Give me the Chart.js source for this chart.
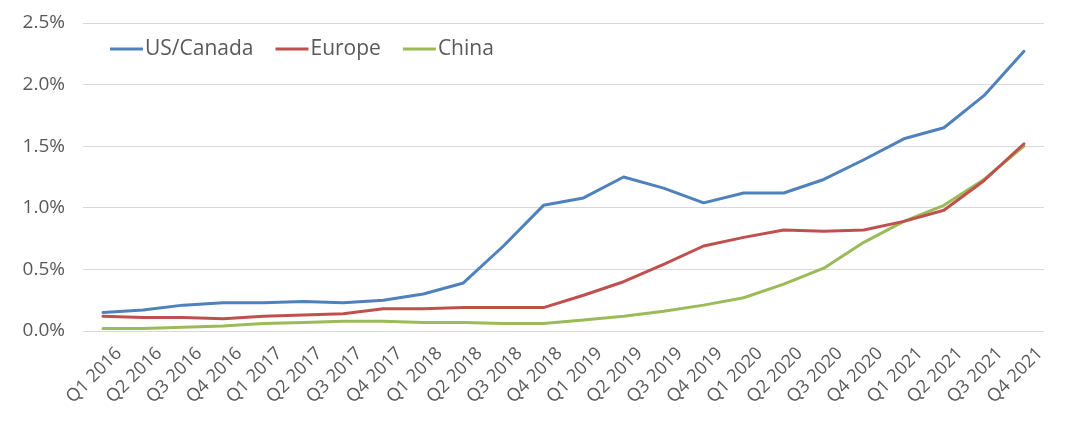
<!DOCTYPE html>
<html>
<head>
<meta charset="utf-8">
<script src="https://cdn.jsdelivr.net/npm/chart.js@4"></script>
<style>
  html, body { margin: 0; padding: 0; background: #fff; }
  #wrap { width: 1080px; height: 426px; }
</style>
</head>
<body>
<div id="wrap"><canvas id="myChart" width="1080" height="426"></canvas></div>
<script>
// data (percent)
const labels = ["Q1 2016","Q2 2016","Q3 2016","Q4 2016","Q1 2017","Q2 2017","Q3 2017","Q4 2017",
  "Q1 2018","Q2 2018","Q3 2018","Q4 2018","Q1 2019","Q2 2019","Q3 2019","Q4 2019",
  "Q1 2020","Q2 2020","Q3 2020","Q4 2020","Q1 2021","Q2 2021","Q3 2021","Q4 2021"];
const usCanada = [0.15,0.17,0.21,0.23,0.23,0.24,0.23,0.25,0.30,0.39,0.69,1.02,
  1.08,1.25,1.16,1.04,1.12,1.12,1.23,1.39,1.56,1.65,1.91,2.27];
const europe = [0.12,0.11,0.11,0.10,0.12,0.13,0.14,0.18,0.18,0.19,0.19,0.19,
  0.29,0.40,0.54,0.69,0.76,0.82,0.81,0.82,0.89,0.98,1.22,1.52];
const china = [0.02,0.02,0.03,0.04,0.06,0.07,0.08,0.08,0.07,0.07,0.06,0.06,
  0.09,0.12,0.16,0.21,0.27,0.38,0.51,0.72,0.89,1.02,1.23,1.50];
const yTicks = [0, 0.5, 1.0, 1.5, 2.0, 2.5];

const textColor = '#595959';
const fontFamily = '"Open Sans", sans-serif';

// legend drawn inside the plot, top-left
const insideLegend = {
  id: 'insideLegend',
  afterDraw(chart) {
    const ctx = chart.ctx;
    const area = chart.chartArea;
    let x = area.left + 27;
    const y = area.top + 26;
    ctx.save();
    ctx.font = '21px ' + fontFamily;
    ctx.textBaseline = 'middle';
    chart.data.datasets.forEach(ds => {
      ctx.strokeStyle = ds.borderColor;
      ctx.lineWidth = 3;
      ctx.beginPath();
      ctx.moveTo(x, y);
      ctx.lineTo(x + 33, y);
      ctx.stroke();
      ctx.fillStyle = textColor;
      ctx.fillText(ds.label, x + 35, y);
      x += 35 + ctx.measureText(ds.label).width + 22;
    });
    ctx.restore();
  }
};

const ctx = document.getElementById('myChart');

new Chart(ctx, {
  type: 'line',
  data: {
    labels: labels,
    datasets: [
      { label: 'US/Canada', data: usCanada, borderColor: '#4F81BD' },
      { label: 'Europe', data: europe, borderColor: '#C0504D' },
      { label: 'China', data: china, borderColor: '#9BBB59' }
    ]
  },
  options: {
    responsive: false,
    animation: false,
    devicePixelRatio: 1,
    layout: { padding: { top: 23, right: 36, left: 0, bottom: 0 } },
    elements: {
      line: { borderWidth: 3, tension: 0, borderCapStyle: 'round', borderJoinStyle: 'round' },
      point: { radius: 0 }
    },
    plugins: {
      legend: { display: false },
      tooltip: { enabled: false }
    },
    scales: {
      x: {
        offset: true,
        grid: { display: false },
        border: { display: false },
        ticks: {
          color: textColor,
          font: { family: fontFamily, size: 18 },
          maxRotation: 45,
          minRotation: 45,
          autoSkip: false,
          labelOffset: 16,
          padding: 4
        },
        afterFit(scale) { scale.height = 95; }
      },
      y: {
        min: 0,
        max: 2.5,
        afterBuildTicks(scale) { scale.ticks = yTicks.map(v => ({ value: v })); },
        grid: { color: '#d9d9d9', lineWidth: 1, drawTicks: false },
        border: { display: false },
        ticks: {
          color: textColor,
          font: { family: fontFamily, size: 19 },
          padding: 18,
          callback: v => v.toFixed(1) + '%'
        },
        afterFit(scale) {
          scale.width = 83;
          scale.paddingTop = 0;
          scale.paddingBottom = 0;
        }
      }
    }
  },
  plugins: [insideLegend]
});
</script>
</body>
</html>
